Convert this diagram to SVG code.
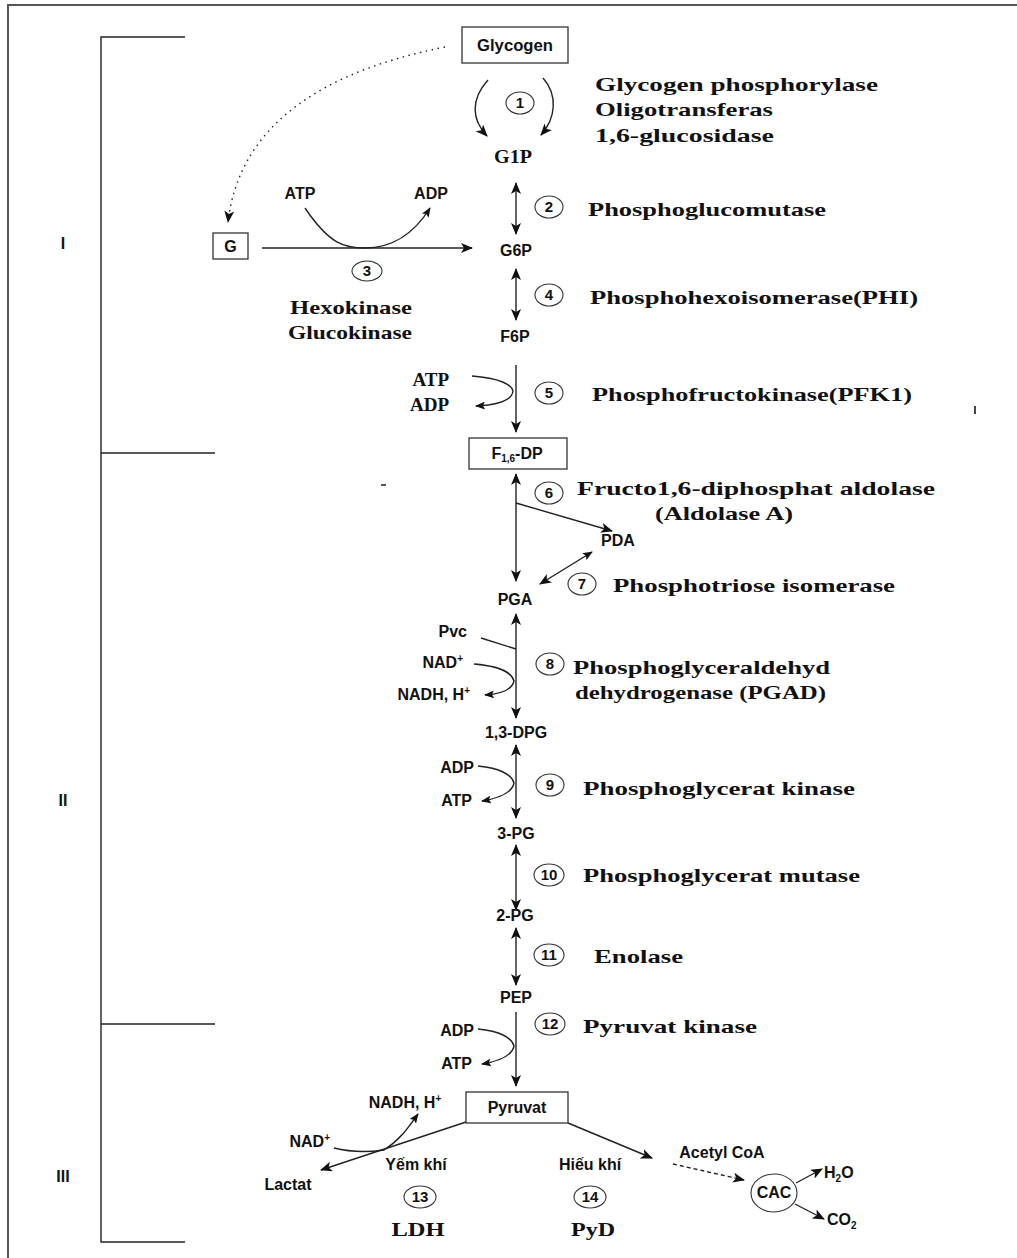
<svg xmlns="http://www.w3.org/2000/svg" width="1017" height="1258" viewBox="0 0 1017 1258">
<style>
.lbl{font-family:"Liberation Sans",Arial,sans-serif;font-weight:bold;font-size:16px;fill:#111}
.enz{font-family:"Liberation Serif","Times New Roman",serif;font-weight:bold;font-size:19px;fill:#111}
.num{font-family:"Liberation Sans",Arial,sans-serif;font-weight:bold;font-size:15px;fill:#111}
.rom{font-family:"Liberation Sans",Arial,sans-serif;font-weight:bold;font-size:16px;fill:#111}
.ln{stroke:#222;stroke-width:1.4;fill:none}
.box{stroke:#333;stroke-width:1.3;fill:#fff}
.circ{stroke:#333;stroke-width:1.1;fill:#fff}
.frame{stroke:#555;stroke-width:2;fill:none}
</style>
<defs>
<marker id="ah" markerUnits="userSpaceOnUse" markerWidth="12" markerHeight="10" refX="11" refY="5" orient="auto-start-reverse">
<path d="M0,0 L12,5 L0,10 L3,5 Z" fill="#111"/>
</marker>
<marker id="ahs" markerUnits="userSpaceOnUse" markerWidth="10" markerHeight="8" refX="9" refY="4" orient="auto-start-reverse">
<path d="M0,0 L10,4 L0,8 L2,4 Z" fill="#111"/>
</marker>
</defs>
<g id="frame">
<path class="frame" d="M8,1258 V5 H1017"/>
<path class="ln" d="M185,37 H101 V1242 H185 M101,453 H215 M101,1024 H215"/>
<text class="rom" x="63" y="249" text-anchor="middle">I</text>
<text class="rom" x="63" y="806" text-anchor="middle">II</text>
<text class="rom" x="63" y="1182" text-anchor="middle">III</text>
<rect x="974" y="406" width="2" height="8" fill="#444"/>
<rect x="381" y="484" width="5" height="2" fill="#555"/>
</g>
<g id="connectors">
<path class="ln" d="M445,47 C330,70 240,120 228,222" stroke-dasharray="1.5 4.5" marker-end="url(#ah)"/>
<path class="ln" d="M488,80 C470,100 472,120 487,136" marker-end="url(#ah)"/>
<path class="ln" d="M543,78 C558,95 556,118 541,135" marker-end="url(#ah)"/>
<line class="ln" x1="516" y1="183" x2="516" y2="234" marker-start="url(#ah)" marker-end="url(#ah)"/>
<line class="ln" x1="262" y1="248" x2="472" y2="248" marker-end="url(#ah)"/>
<path class="ln" d="M305,208 C330,245 345,248 365,248 C385,248 410,240 430,208" marker-end="url(#ahs)"/>
<line class="ln" x1="516" y1="269" x2="516" y2="320" marker-start="url(#ah)" marker-end="url(#ah)"/>
<line class="ln" x1="516" y1="365" x2="516" y2="432" marker-end="url(#ah)"/>
<path class="ln" d="M472,376 C500,378 512,385 513,391 C512,400 500,405 476,406" marker-end="url(#ahs)"/>
<line class="ln" x1="516" y1="474" x2="516" y2="581" marker-start="url(#ah)" marker-end="url(#ah)"/>
<line class="ln" x1="516" y1="503" x2="612" y2="531" marker-end="url(#ah)"/>
<line class="ln" x1="592" y1="552" x2="540" y2="584" marker-start="url(#ahs)" marker-end="url(#ah)"/>
<line class="ln" x1="516" y1="614" x2="516" y2="718" marker-start="url(#ah)" marker-end="url(#ah)"/>
<line class="ln" x1="481" y1="638" x2="516" y2="649"/>
<path class="ln" d="M474,664 C500,666 512,673 514,681 C512,690 500,694 485,695" marker-end="url(#ahs)"/>
<line class="ln" x1="516" y1="745" x2="516" y2="818" marker-start="url(#ah)" marker-end="url(#ah)"/>
<path class="ln" d="M478,766 C500,768 512,775 514,783 C512,793 500,798 482,801" marker-end="url(#ahs)"/>
<line class="ln" x1="516" y1="845" x2="516" y2="910" marker-start="url(#ah)" marker-end="url(#ah)"/>
<line class="ln" x1="516" y1="928" x2="516" y2="985" marker-start="url(#ah)" marker-end="url(#ah)"/>
<line class="ln" x1="516" y1="1012" x2="516" y2="1086" marker-end="url(#ah)"/>
<path class="ln" d="M478,1029 C500,1031 512,1038 514,1046 C512,1056 500,1061 482,1064" marker-end="url(#ahs)"/>
<line class="ln" x1="466" y1="1122" x2="321" y2="1170" marker-end="url(#ah)"/>
<path class="ln" d="M334,1148 C350,1152 370,1152 384,1150 C400,1140 408,1128 418,1114" marker-end="url(#ahs)"/>
<line class="ln" x1="568" y1="1123" x2="652" y2="1158" marker-end="url(#ah)"/>
<line class="ln" x1="673" y1="1164" x2="744" y2="1180" stroke-dasharray="4 3" marker-end="url(#ah)"/>
<line class="ln" x1="796" y1="1183" x2="822" y2="1169" marker-end="url(#ah)"/>
<line class="ln" x1="795" y1="1204" x2="824" y2="1219" marker-end="url(#ah)"/>
</g>
<g id="glycogen"><rect class="box" x="462" y="27" width="106" height="36"/><text class="lbl" x="515" y="51" text-anchor="middle" textLength="76" lengthAdjust="spacingAndGlyphs">Glycogen</text></g>
<g id="step1"><ellipse class="circ" cx="520" cy="103" rx="14" ry="11"/><text class="num" x="520" y="108" text-anchor="middle">1</text>
<text class="enz" x="595" y="91" textLength="283" lengthAdjust="spacingAndGlyphs">Glycogen phosphorylase</text>
<text class="enz" x="595" y="116" textLength="178" lengthAdjust="spacingAndGlyphs">Oligotransferas</text>
<text class="enz" x="595" y="142" textLength="179" lengthAdjust="spacingAndGlyphs">1,6-glucosidase</text></g>
<g id="g1p"><text class="enz" x="513" y="163" text-anchor="middle" textLength="38" lengthAdjust="spacingAndGlyphs">G1P</text></g>
<g id="step2"><ellipse class="circ" cx="549" cy="207" rx="14" ry="11"/><text class="num" x="549" y="212" text-anchor="middle">2</text>
<text class="enz" x="588" y="216" textLength="238" lengthAdjust="spacingAndGlyphs">Phosphoglucomutase</text></g>
<g id="g"><rect class="box" x="213" y="233" width="35" height="26"/><text class="lbl" x="230.5" y="252" text-anchor="middle">G</text></g>
<g id="step3"><text class="lbl" x="300" y="199" text-anchor="middle">ATP</text><text class="lbl" x="431" y="199" text-anchor="middle">ADP</text>
<ellipse class="circ" cx="367" cy="271" rx="15" ry="10"/><text class="num" x="367" y="276" text-anchor="middle">3</text>
<text class="enz" x="290" y="314" textLength="122" lengthAdjust="spacingAndGlyphs">Hexokinase</text>
<text class="enz" x="288" y="339" textLength="124" lengthAdjust="spacingAndGlyphs">Glucokinase</text></g>
<g id="g6p"><text class="lbl" x="516" y="256" text-anchor="middle">G6P</text></g>
<g id="step4"><ellipse class="circ" cx="549" cy="295" rx="14" ry="11"/><text class="num" x="549" y="300" text-anchor="middle">4</text>
<text class="enz" x="590" y="304" textLength="328" lengthAdjust="spacingAndGlyphs">Phosphohexoisomerase(PHI)</text></g>
<g id="f6p"><text class="lbl" x="515" y="342" text-anchor="middle">F6P</text></g>
<g id="step5"><text class="enz" x="449" y="386" text-anchor="end" font-size="18">ATP</text><text class="enz" x="449" y="411" text-anchor="end" font-size="18">ADP</text>
<ellipse class="circ" cx="549" cy="393" rx="14" ry="11"/><text class="num" x="549" y="398" text-anchor="middle">5</text>
<text class="enz" x="592" y="401" textLength="320" lengthAdjust="spacingAndGlyphs">Phosphofructokinase(PFK1)</text></g>
<g id="f16dp"><rect class="box" x="469" y="438" width="98" height="31"/><text class="lbl" x="517" y="459" text-anchor="middle">F<tspan font-size="10" dy="3">1,6</tspan><tspan dy="-3">-DP</tspan></text></g>
<g id="step6"><ellipse class="circ" cx="549" cy="493" rx="14" ry="11"/><text class="num" x="549" y="498" text-anchor="middle">6</text>
<text class="enz" x="577" y="495" textLength="358" lengthAdjust="spacingAndGlyphs">Fructo1,6-diphosphat aldolase</text>
<text class="enz" x="655" y="520" textLength="138" lengthAdjust="spacingAndGlyphs">(Aldolase A)</text></g>
<g id="pda"><text class="lbl" x="618" y="546" text-anchor="middle">PDA</text></g>
<g id="step7"><ellipse class="circ" cx="582" cy="584" rx="14" ry="11"/><text class="num" x="582" y="589" text-anchor="middle">7</text>
<text class="enz" x="613" y="592" textLength="282" lengthAdjust="spacingAndGlyphs">Phosphotriose isomerase</text></g>
<g id="pga"><text class="lbl" x="515" y="605" text-anchor="middle">PGA</text></g>
<g id="step8"><text class="lbl" x="467" y="637" text-anchor="end">Pvc</text>
<text class="lbl" x="463" y="668" text-anchor="end">NAD<tspan font-size="10" dy="-6">+</tspan></text>
<text class="lbl" x="470" y="700" text-anchor="end">NADH, H<tspan font-size="10" dy="-6">+</tspan></text>
<ellipse class="circ" cx="550" cy="664" rx="14" ry="11"/><text class="num" x="550" y="669" text-anchor="middle">8</text>
<text class="enz" x="573" y="674" textLength="257" lengthAdjust="spacingAndGlyphs">Phosphoglyceraldehyd</text>
<text class="enz" x="575" y="699" textLength="251" lengthAdjust="spacingAndGlyphs">dehydrogenase (PGAD)</text></g>
<g id="dpg13"><text class="lbl" x="516" y="738" text-anchor="middle">1,3-DPG</text></g>
<g id="step9"><text class="lbl" x="474" y="773" text-anchor="end">ADP</text><text class="lbl" x="472" y="806" text-anchor="end">ATP</text>
<ellipse class="circ" cx="550" cy="785" rx="14" ry="11"/><text class="num" x="550" y="790" text-anchor="middle">9</text>
<text class="enz" x="583" y="795" textLength="272" lengthAdjust="spacingAndGlyphs">Phosphoglycerat kinase</text></g>
<g id="pg3"><text class="lbl" x="516" y="839" text-anchor="middle">3-PG</text></g>
<g id="step10"><ellipse class="circ" cx="549" cy="875" rx="15" ry="11"/><text class="num" x="549" y="880" text-anchor="middle">10</text>
<text class="enz" x="583" y="882" textLength="277" lengthAdjust="spacingAndGlyphs">Phosphoglycerat mutase</text></g>
<g id="pg2"><text class="lbl" x="515" y="921" text-anchor="middle">2-PG</text></g>
<g id="step11"><ellipse class="circ" cx="549" cy="955" rx="15" ry="11"/><text class="num" x="549" y="960" text-anchor="middle">11</text>
<text class="enz" x="594" y="963" textLength="89" lengthAdjust="spacingAndGlyphs">Enolase</text></g>
<g id="pep"><text class="lbl" x="516" y="1003" text-anchor="middle">PEP</text></g>
<g id="step12"><text class="lbl" x="474" y="1036" text-anchor="end">ADP</text><text class="lbl" x="472" y="1069" text-anchor="end">ATP</text>
<ellipse class="circ" cx="550" cy="1024" rx="15" ry="11"/><text class="num" x="550" y="1029" text-anchor="middle">12</text>
<text class="enz" x="583" y="1033" textLength="174" lengthAdjust="spacingAndGlyphs">Pyruvat kinase</text></g>
<g id="pyruvat"><rect class="box" x="466" y="1092" width="102" height="31"/><text class="lbl" x="517" y="1113" text-anchor="middle" font-size="17">Pyruvat</text></g>
<g id="lactat"><text class="lbl" x="288" y="1190" text-anchor="middle" font-size="15">Lactat</text>
<text class="lbl" x="330" y="1147" text-anchor="end">NAD<tspan font-size="10" dy="-6">+</tspan></text>
<text class="lbl" x="405" y="1108" text-anchor="middle">NADH, H<tspan font-size="10" dy="-6">+</tspan></text>
<text class="lbl" x="416" y="1170" text-anchor="middle" font-size="17">Yếm khí</text>
<ellipse class="circ" cx="420" cy="1197" rx="16" ry="11"/><text class="num" x="420" y="1202" text-anchor="middle">13</text>
<text class="enz" x="418" y="1236" text-anchor="middle" textLength="53" lengthAdjust="spacingAndGlyphs">LDH</text></g>
<g id="aerobic"><text class="lbl" x="590" y="1170" text-anchor="middle" font-size="17">Hiếu khí</text>
<ellipse class="circ" cx="590" cy="1197" rx="16" ry="11"/><text class="num" x="590" y="1202" text-anchor="middle">14</text>
<text class="enz" x="593" y="1236" text-anchor="middle" textLength="44" lengthAdjust="spacingAndGlyphs">PyD</text>
<text class="lbl" x="722" y="1158" text-anchor="middle">Acetyl CoA</text></g>
<g id="cac"><ellipse class="circ" cx="774" cy="1193" rx="23" ry="19"/><text class="lbl" x="774" y="1198" text-anchor="middle">CAC</text></g>
<g id="h2o"><text class="lbl" x="824" y="1178">H<tspan font-size="10" dy="4">2</tspan><tspan dy="-4">O</tspan></text></g>
<g id="co2"><text class="lbl" x="827" y="1225">CO<tspan font-size="10" dy="4">2</tspan></text></g>
</svg>
